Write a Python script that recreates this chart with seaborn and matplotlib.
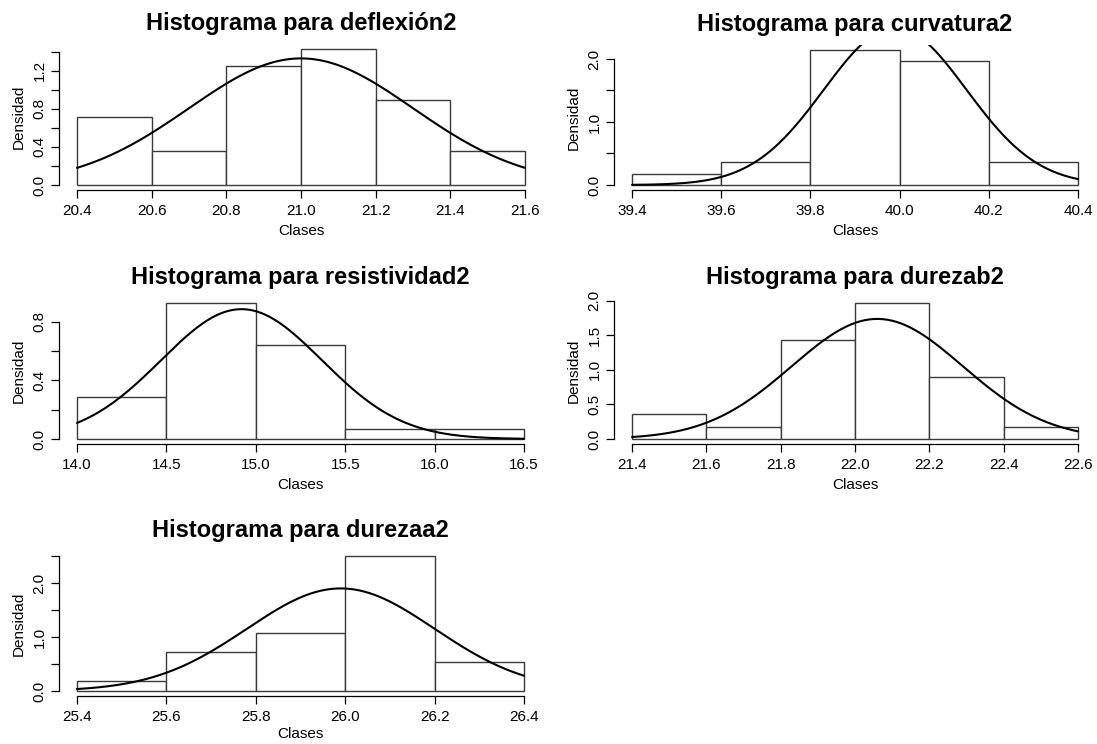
import numpy as np
import pandas as pd
import matplotlib
matplotlib.use("Agg")
import matplotlib.pyplot as plt
import seaborn as sns

# Class breaks and frequencies for each variable (28 observations each)
breaks_deflexion = [20.4, 20.6, 20.8, 21.0, 21.2, 21.4, 21.6]
counts_deflexion = [4, 2, 7, 8, 5, 2]

breaks_curvatura = [39.4, 39.6, 39.8, 40.0, 40.2, 40.4]
counts_curvatura = [1, 2, 12, 11, 2]

breaks_resistividad = [14.0, 14.5, 15.0, 15.5, 16.0, 16.5]
counts_resistividad = [4, 13, 9, 1, 1]

breaks_durezab = [21.4, 21.6, 21.8, 22.0, 22.2, 22.4, 22.6]
counts_durezab = [2, 1, 8, 11, 5, 1]

breaks_durezaa = [25.4, 25.6, 25.8, 26.0, 26.2, 26.4]
counts_durezaa = [1, 4, 6, 14, 3]

# Normal fit (mean, sd) overlaid on each histogram
medias = [21.0, 39.99, 14.92, 22.06, 25.99]
desvios = [0.30, 0.16, 0.45, 0.23, 0.21]

nombres = ["deflexión2", "curvatura2", "resistividad2", "durezab2", "durezaa2"]

# y-axis ticks: (step, top, label every n-th)
yticks_cfg = [(0.2, 1.4, 2), (0.5, 2.0, 2), (0.2, 0.8, 2), (0.5, 2.0, 1), (0.5, 2.5, 2)]

sns.set_theme(style="ticks")
plt.rcParams["font.family"] = ["Liberation Sans", "DejaVu Sans"]
plt.rcParams["text.color"] = "black"
plt.rcParams["axes.labelcolor"] = "black"

W, H = 1097, 744
fig = plt.figure(figsize=(W / 100, H / 100), dpi=100)

# Pixel placement: (x of first break, x of last break, y of zero, y of max density)
layout = [
    (77, 525, 185, 49),
    (632, 1078, 185, 50),
    (77, 524, 439, 303),
    (632, 1078, 439, 303),
    (77, 524, 691, 556),
]

datasets = [
    (breaks_deflexion, counts_deflexion),
    (breaks_curvatura, counts_curvatura),
    (breaks_resistividad, counts_resistividad),
    (breaks_durezab, counts_durezab),
    (breaks_durezaa, counts_durezaa),
]

for i, ((brk_list, cnt_list), (x0p, x1p, y0p, ytp)) in enumerate(zip(datasets, layout)):
    brk = np.array(brk_list, dtype=float)
    cnt = np.array(cnt_list, dtype=float)
    widths = np.diff(brk)
    dens = cnt / (cnt.sum() * widths)
    ymax = dens.max()

    padx = 0.04 * (x1p - x0p)
    pady = 0.04 * (y0p - ytp)
    left = (x0p - padx) / W
    width = (x1p - x0p + 2 * padx) / W
    bottom = 1 - (y0p + pady) / H
    height = (y0p - ytp + 2 * pady) / H
    ax = fig.add_axes([left, bottom, width, height])

    df = pd.DataFrame({"centro": (brk[:-1] + brk[1:]) / 2, "n": cnt})
    sns.histplot(data=df, x="centro", weights="n", bins=list(brk_list), stat="density",
                 color="white", edgecolor="#3a3a3a", linewidth=1.0, alpha=1,
                 ax=ax)

    xs = np.linspace(brk[0], brk[-1], 200)
    ys = np.exp(-0.5 * ((xs - medias[i]) / desvios[i]) ** 2) / (desvios[i] * np.sqrt(2 * np.pi))
    sns.lineplot(x=xs, y=ys, color="black", linewidth=1.5, ax=ax)

    rng_x = brk[-1] - brk[0]
    ax.set_xlim(brk[0] - 0.04 * rng_x, brk[-1] + 0.04 * rng_x)
    ax.set_ylim(-0.04 * ymax, ymax * 1.04)

    ax.set_xticks(brk)
    ax.set_xticklabels([f"{b:.1f}" for b in brk])

    step, top, every = yticks_cfg[i]
    yt = np.round(np.arange(0, top + step / 2, step), 2)
    ax.set_yticks(yt)
    ax.set_yticklabels([f"{v:.1f}" if k % every == 0 else "" for k, v in enumerate(yt)],
                       rotation=90, va="center")

    for s in ["top", "right"]:
        ax.spines[s].set_visible(False)
    ax.spines["left"].set_bounds(0, top)
    ax.spines["bottom"].set_bounds(brk[0], brk[-1])
    for s in ["left", "bottom"]:
        ax.spines[s].set_color("black")
        ax.spines[s].set_linewidth(0.9)

    ax.tick_params(axis="both", length=6, width=0.9, color="black",
                   labelsize=11, labelcolor="black", pad=3)
    ax.tick_params(axis="x", pad=4)

    ax.set_xlabel("Clases", fontsize=11, labelpad=4 if i < 4 else 2)
    ax.set_ylabel("Densidad", fontsize=11, labelpad=5)
    ax.set_title(f"Histograma para {nombres[i]}", fontsize=17,
                 fontweight="bold", pad=10, color="black")
    ax.grid(False)

fig.savefig("out.png", dpi=100, facecolor="white")
